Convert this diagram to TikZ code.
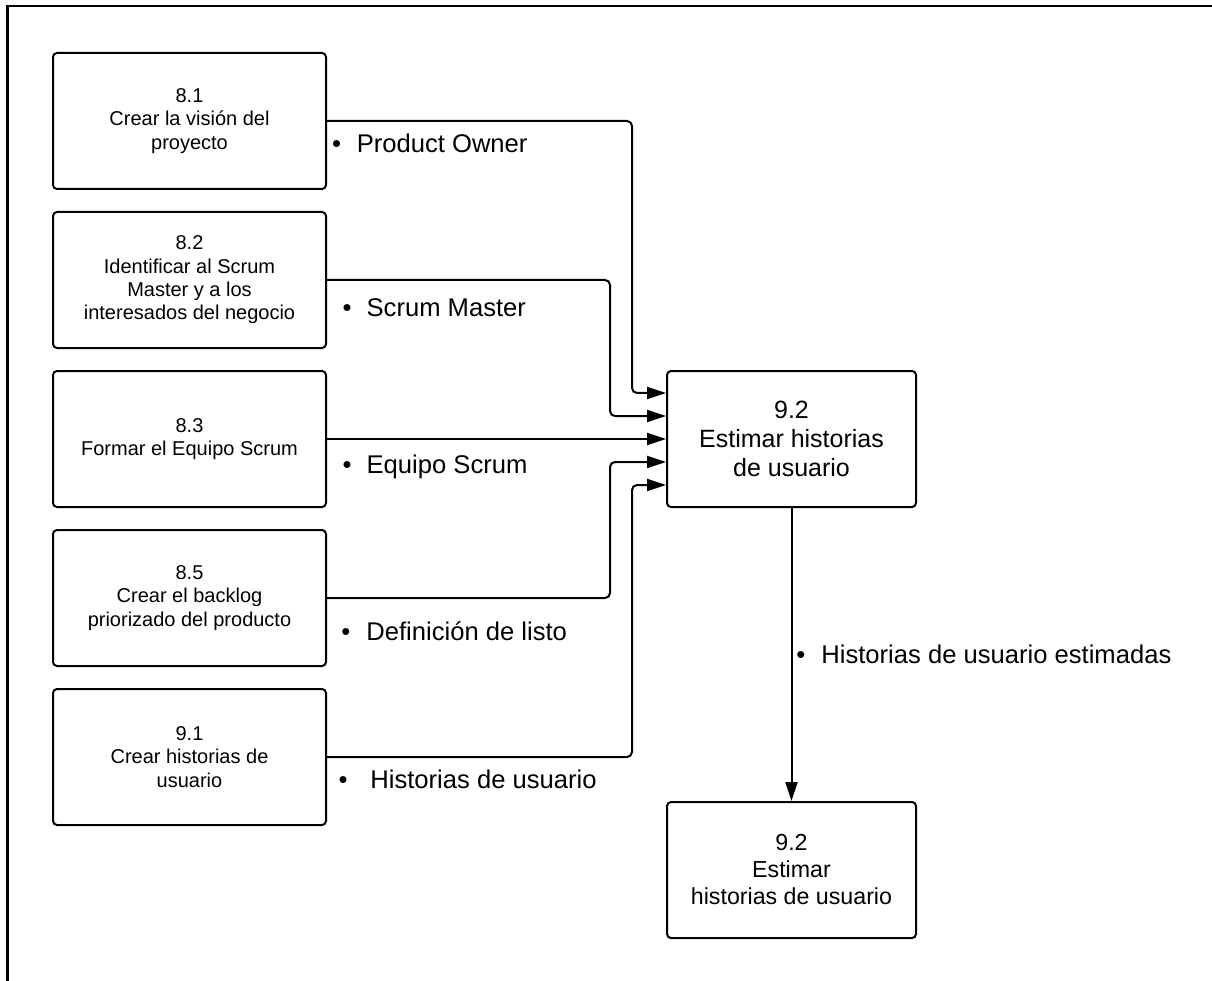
\documentclass[tikz,border=0pt]{standalone}
\usepackage{fontspec}
\setmainfont{Liberation Sans}
\usetikzlibrary{arrows.meta,calc}
\newcommand\bulletlbl[2]{•\hspace{#1pt}#2}
\begin{document}
\begin{tikzpicture}[x=1pt,y=-1pt,
  smallbox/.style={draw,line width=2pt,rounded corners=4pt,minimum width=273pt,minimum height=136pt,align=center,inner sep=0pt,font=\fontsize{20}{23.3}\selectfont},
  bigbox/.style={draw,line width=2pt,rounded corners=4pt,minimum width=249pt,minimum height=136pt,align=center,inner sep=0pt},
  conn/.style={line width=2pt,rounded corners=5pt,-{Triangle[length=19pt,width=12pt]}},
  lbl/.style={anchor=base west,inner sep=0pt,font=\fontsize{25.6}{30}\selectfont}]
\useasboundingbox (0,0) rectangle (1212,981);
\draw[line width=2.5pt] (7.5,981) -- (7.5,6) -- (1212,6);

\node[smallbox] (b81) at (189.5,121) {8.1\\Crear la visión del\\proyecto};
\node[smallbox] (b82) at (189.5,280) {8.2\\Identificar al Scrum\\Master y a los\\interesados del negocio};
\node[smallbox] (b83) at (189.5,439) {8.3\\Formar el Equipo Scrum};
\node[smallbox] (b85) at (189.5,598) {8.5\\Crear el backlog\\priorizado del producto};
\node[smallbox] (b91) at (189.5,757) {9.1\\Crear historias de\\usuario};

\node[bigbox,font=\fontsize{25}{29}\selectfont] (main) at (791.5,439) {9.2\\Estimar historias\\de usuario};
\node[bigbox,font=\fontsize{23.2}{27}\selectfont] (out) at (791.5,870) {9.2\\Estimar\\historias de usuario};

\coordinate (in1) at ($(main.north west)!1/6!(main.south west)$);
\coordinate (in2) at ($(main.north west)!2/6!(main.south west)$);
\coordinate (in3) at ($(main.north west)!3/6!(main.south west)$);
\coordinate (in4) at ($(main.north west)!4/6!(main.south west)$);
\coordinate (in5) at ($(main.north west)!5/6!(main.south west)$);
\coordinate (xa) at (632,0);
\coordinate (xb) at (610,0);

\draw[conn] (b81.east) -- (b81.east -| xa) -- (in1 -| xa) -- (in1);
\draw[conn] (b82.east) -- (b82.east -| xb) -- (in2 -| xb) -- (in2);
\draw[conn] (b83.east) -- (in3);
\draw[conn] (b85.east) -- (b85.east -| xb) -- (in4 -| xb) -- (in4);
\draw[conn] (b91.east) -- (b91.east -| xa) -- (in5 -| xa) -- (in5);
\draw[conn] (main.south) -- (out.north);

\node[lbl] (l1) at (331.8,153) {\bulletlbl{15.8}{Product Owner}};
\node[lbl] (l2) at (342.5,316.7) {\bulletlbl{15}{Scrum Master}};
\node[lbl] (l3) at (342.5,473) {\bulletlbl{15}{Equipo Scrum}};
\node[lbl] (l4) at (341.2,640) {\bulletlbl{16}{Definición de listo}};
\node[lbl] (l5) at (338.5,788) {\bulletlbl{22.7}{Historias de usuario}};
\node[lbl] (l6) at (796.2,663) {\bulletlbl{16}{Historias de usuario estimadas}};
\end{tikzpicture}
\end{document}
